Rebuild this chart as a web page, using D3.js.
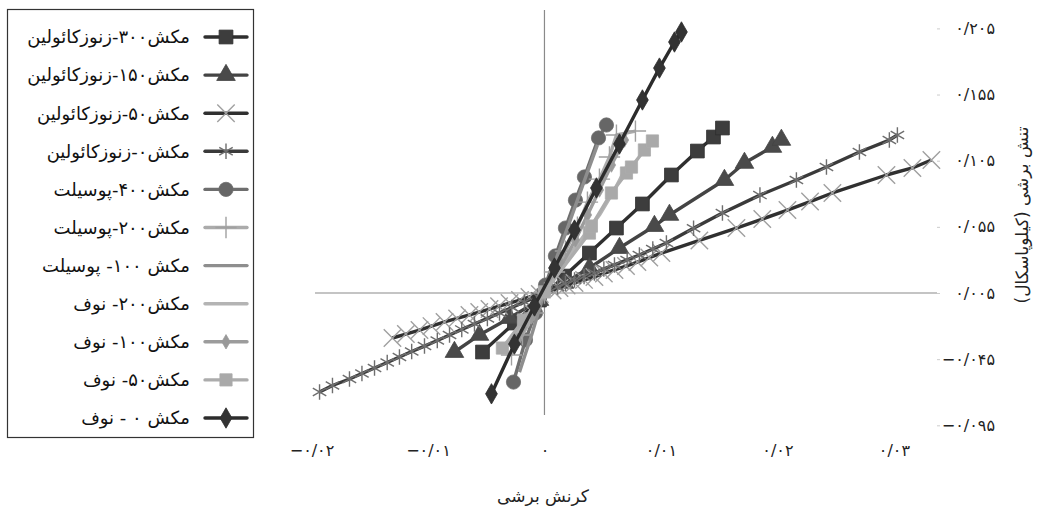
<!DOCTYPE html>
<html>
<head>
<meta charset="utf-8">
<script src="https://d3js.org/d3.v7.min.js"></script>
<style>
  body { margin: 0; background: #fff; }
  text { font-family: "DejaVu Sans", sans-serif; }
</style>
</head>
<body>
<div id="chart"></div>
<script>
// strain (x) / shear stress (y) pairs
const kaolin300 = [[-0.00532,-0.0396],[-0.00258,-0.0177],[-0.00043,-0.0003],[0.00172,0.0178],[0.00386,0.0352],
  [0.00618,0.0541],[0.00841,0.0723],[0.0109,0.0942],[0.01313,0.1123],[0.01451,0.1229],[0.01528,0.1297]];
const kaolin150 = [[-0.00773,-0.0396],[-0.00558,-0.0267],[-0.003,-0.0139],[-0.00043,-0.0003],[0.00172,0.0126],
  [0.00386,0.0239],[0.00644,0.039],[0.00944,0.0556],[0.01073,0.064],[0.01545,0.0904],[0.01717,0.1033],
  [0.01957,0.1154],[0.02034,0.1207]];
const kaolin50 = [[-0.01305,-0.029],[-0.0119,-0.026],[-0.01073,-0.023],[-0.0097,-0.020],[-0.00858,-0.0169],
  [-0.0075,-0.0142],[-0.00644,-0.0116],[-0.0056,-0.0094],[-0.00472,-0.0071],[-0.0039,-0.0049],[-0.003,-0.0026],
  [-0.0021,-0.0003],[-0.00129,0.002],[-0.0004,0.0043],[0.0007,0.0069],[0.00129,0.0088],[0.0019,0.0107],
  [0.00258,0.0126],[0.0034,0.0149],[0.00429,0.0171],[0.0051,0.0198],[0.00601,0.0224],[0.0070,0.0254],
  [0.00798,0.0284],[0.0090,0.0318],[0.01004,0.0352],[0.0133,0.0447],[0.01648,0.0541],[0.0187,0.0609],
  [0.02086,0.0677],[0.0228,0.0741],[0.02472,0.0806],[0.02936,0.0942],[0.03159,0.0995],[0.03322,0.1055]];
const kaolin0 = [[-0.01931,-0.0698],[-0.0182,-0.0649],[-0.01674,-0.06],[-0.01567,-0.0558],[-0.01459,-0.0517],
  [-0.0135,-0.0475],[-0.01245,-0.0434],[-0.0114,-0.0392],[-0.0103,-0.0351],[-0.0092,-0.0309],[-0.00815,-0.0267],
  [-0.0071,-0.0225],[-0.00601,-0.0184],[-0.0049,-0.0142],[-0.00386,-0.0101],[-0.0028,-0.006],[-0.00172,-0.0018],
  [-0.0006,0.0025],[0.00112,0.0095],[0.0018,0.0121],[0.00258,0.0148],[0.0034,0.0175],[0.00429,0.0201],
  [0.0051,0.0232],[0.00601,0.0262],[0.0071,0.0300],[0.00815,0.0337],[0.0093,0.0383],[0.01047,0.0428],
  [0.0128,0.0540],[0.01528,0.0655],[0.0185,0.0790],[0.02163,0.0904],[0.02421,0.1002],[0.02704,0.1116],
  [0.02961,0.1206],[0.0303,0.1244]];
const silt400 = [[-0.00266,-0.0623],[-0.00163,-0.0305],[-0.00077,-0.0101],[0.00009,0.011],[0.00094,0.033],
  [0.0018,0.0541],[0.00266,0.0752],[0.00343,0.0927],[0.00464,0.1222],[0.00532,0.132]];
const silt200 = [[-0.00283,-0.0418],[-0.00189,-0.0267],[-0.00086,-0.0101],[0,0.005],[0.00086,0.0209],
  [0.00180,0.0367],[0.00283,0.0548],[0.00369,0.0737],[0.00472,0.0911],[0.00558,0.1078],[0.00618,0.1244],
  [0.00781,0.1274]];
const silt100 = [[-0.00215,-0.0548],[-0.00103,-0.0247],[0,0.0058],[0.00103,0.0314],[0.00197,0.0541],
  [0.00283,0.0752],[0.00369,0.0964],[0.00455,0.1169]];
const nof200 = [[-0.0036,-0.0382],[-0.00172,-0.0169],[0,0.005],[0.00215,0.0337],[0.00343,0.0488],
  [0.00472,0.0639],[0.006,0.0828],[0.00712,0.1017]];
const nof100 = [[-0.00232,-0.0306],[-0.00112,-0.0131],[0,0.005],[0.00146,0.0262],[0.00266,0.0451],
  [0.00369,0.064],[0.00472,0.0828],[0.00575,0.1017],[0.00687,0.1206]];
const nof50 = [[-0.00361,-0.0366],[-0.0018,-0.0154],[0,0.0058],[0.00386,0.0503],[0.00403,0.0556],
  [0.00575,0.0806],[0.00704,0.0957],[0.00747,0.1002],[0.00858,0.1131],[0.00927,0.1199]];
const nof0 = [[-0.00455,-0.0712],[-0.00258,-0.0336],[-0.00086,-0.0048],[0.00086,0.0239],[0.00258,0.0526],
  [0.00446,0.0844],[0.00644,0.1176],[0.00841,0.1509],[0.00987,0.175],[0.01116,0.1947],[0.01176,0.2023]];

const seriesNames = ["مکش۳۰۰-زنوزکائولین","مکش۱۵۰-زنوزکائولین","مکش۵۰-زنوزکائولین","مکش۰-زنوزکائولین",
  "مکش۴۰۰-پوسیلت","مکش۲۰۰-پوسیلت","مکش ۱۰۰- پوسیلت","مکش۲۰۰- نوف","مکش۱۰۰- نوف","مکش۵۰- نوف","مکش ۰ - نوف"];
const seriesData = [kaolin300, kaolin150, kaolin50, kaolin0, silt400, silt200, silt100, nof200, nof100, nof50, nof0];
const xTicks = [-0.02, -0.01, 0, 0.01, 0.02, 0.03];
const yTicks = [-0.095, -0.045, 0.005, 0.055, 0.105, 0.155, 0.205];
const xTitle = "کرنش برشی";
const yTitle = "تنش برشی (کیلوپاسکال)";

// look of each series: line colour, marker type, marker colour, marker size
const styles = [
  {line:"#2f2f2f", mark:"square",   fill:"#3d3d3d", size:190},
  {line:"#444",    mark:"triangle", fill:"#4a4a4a", size:150},
  {line:"#303030", mark:"times",    fill:"#a0a0a0", size:200},
  {line:"#3a3a3a", mark:"asterisk", fill:"#6e6e6e", size:170},
  {line:"#6e6e6e", mark:"circle",   fill:"#666",    size:160},
  {line:"#ababab", mark:"plus",     fill:"#a0a0a0", size:150},
  {line:"#8e8e8e", mark:null},
  {line:"#b4b4b4", mark:null},
  {line:"#9c9c9c", mark:"diamond",  fill:"#999",    size:60},
  {line:"#acacac", mark:"square",   fill:"#a9a9a9", size:150},
  {line:"#2c2c2c", mark:"diamond",  fill:"#333",    size:120}
];
const symbols = {square:d3.symbolSquare, triangle:d3.symbolTriangle, times:d3.symbolTimes,
  asterisk:d3.symbolAsterisk, circle:d3.symbolCircle, plus:d3.symbolPlus, diamond:d3.symbolDiamond};
const strokeOnly = {times:true, asterisk:true, plus:true};

const width = 1047, height = 507;
const svg = d3.select("#chart").append("svg")
    .attr("width", width).attr("height", height);

const x = d3.scaleLinear().domain([-0.0197, 0.0337]).range([315, 937]);
const y = d3.scaleLinear().domain([-0.0872, 0.2189]).range([415, 10]);

const fa = s => s.replace(/[0-9]/g, d => "۰۱۲۳۴۵۶۷۸۹"[d]).replace(".", "/");

// axis lines crossing in the middle
svg.append("line")
    .attr("x1", x.range()[0]).attr("x2", x.range()[1])
    .attr("y1", y(0.005)).attr("y2", y(0.005))
    .attr("stroke", "#8a8a8a").attr("stroke-width", 1.2);
svg.append("line")
    .attr("x1", x(0)).attr("x2", x(0))
    .attr("y1", y.range()[1]).attr("y2", y.range()[0])
    .attr("stroke", "#8a8a8a").attr("stroke-width", 1.2);

// x labels
const gx = svg.append("g").attr("transform", "translate(0,440)")
    .call(d3.axisBottom(x).tickValues(xTicks).tickSize(0).tickFormat(d => fa(d3.format("~g")(d))));
gx.select(".domain").remove();
gx.selectAll("text").attr("font-size", 16).attr("fill", "#222").attr("dy", "0.8em");

// y labels on the right
const gy = svg.append("g").attr("transform", "translate(937,0)")
    .call(d3.axisRight(y).tickValues(yTicks).tickSize(3).tickFormat(d => fa(d3.format(".3f")(d))));
gy.select(".domain").remove();
gy.selectAll(".tick line").attr("stroke", "#ccc");
gy.selectAll("text").attr("font-size", 16).attr("fill", "#222")
    .attr("text-anchor", "end").attr("x", 58);

svg.append("text").attr("x", 543).attr("y", 502)
    .attr("text-anchor", "middle").attr("direction", "rtl")
    .attr("font-size", 17).attr("fill", "#222").text(xTitle);
svg.append("text").attr("transform", "translate(1028,215) rotate(-90)")
    .attr("text-anchor", "middle").attr("direction", "rtl")
    .attr("font-size", 17).attr("fill", "#222").text(yTitle);

const line = d3.line().x(d => x(d[0])).y(d => y(d[1]));

function marker(g, st) {
  const p = g.append("path").attr("d", d3.symbol(symbols[st.mark], st.size)());
  if (strokeOnly[st.mark]) p.attr("fill", "none").attr("stroke", st.fill).attr("stroke-width", 1.4);
  else p.attr("fill", st.fill).attr("stroke", st.line).attr("stroke-width", 0.8);
  return p;
}

seriesData.forEach((data, i) => {
  const st = styles[i];
  const g = svg.append("g");
  g.append("path").datum(data).attr("d", line)
    .attr("fill", "none").attr("stroke", st.line).attr("stroke-width", 3.4)
    .attr("stroke-linejoin", "round");
  if (st.mark) {
    data.forEach(d => {
      const m = g.append("g").attr("transform", `translate(${x(d[0])},${y(d[1])})`);
      marker(m, st);
    });
  }
});

// legend
const legend = svg.append("g");
legend.append("rect").attr("x", 7.5).attr("y", 9.5).attr("width", 246).attr("height", 428)
    .attr("fill", "#fff").attr("stroke", "#333").attr("stroke-width", 1.2);
seriesNames.forEach((name, i) => {
  const st = styles[i];
  const ry = 37 + i * 38.1;
  legend.append("line").attr("x1", 205).attr("x2", 247).attr("y1", ry).attr("y2", ry)
    .attr("stroke", st.line).attr("stroke-width", 3.4).attr("stroke-linecap", "round");
  if (st.mark) {
    const m = legend.append("g").attr("transform", `translate(226,${ry})`);
    marker(m, st);
  }
  legend.append("text").attr("x", 190).attr("y", ry).attr("dy", "0.35em")
    .attr("direction", "rtl").attr("text-anchor", "start")
    .attr("font-size", 18).attr("fill", "#111").text(name);
});
</script>
</body>
</html>
